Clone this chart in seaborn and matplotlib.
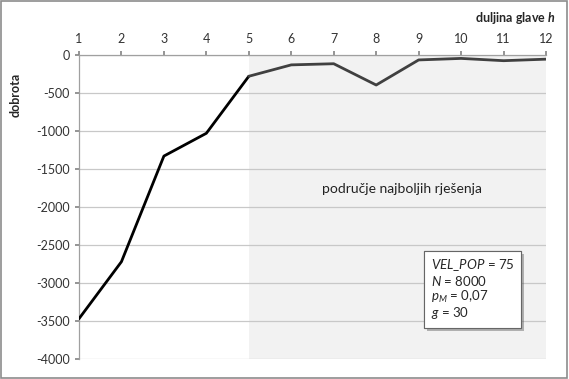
import seaborn as sns
import matplotlib.pyplot as plt
import matplotlib.patheffects as pe
import pandas as pd

# head length h and fitness values
h = [1, 2, 3, 4, 5, 6, 7, 8, 9, 10, 11, 12]
dobrota = [-3470, -2720, -1330, -1030, -280, -130, -115, -395, -65, -45, -75, -55]
best_start = 5
params = "$VEL\\_POP$ = 75\n$N$ = 8000\n$p_M$ = 0,07\n$g$ = 30"

sns.set_theme(style="white")
plt.rcParams['font.family'] = ['Lato', 'DejaVu Sans']
plt.rcParams['axes.unicode_minus'] = False
plt.rcParams['mathtext.fontset'] = 'custom'
plt.rcParams['mathtext.rm'] = 'Lato'
plt.rcParams['mathtext.it'] = 'Lato:italic'
plt.rcParams['mathtext.bf'] = 'Lato:bold'
plt.rcParams['mathtext.bfit'] = 'Lato:bold:italic'

df = pd.DataFrame({'h': h, 'dobrota': dobrota})
first = df[df['h'] <= best_start]
second = df[df['h'] >= best_start]

fig = plt.figure(figsize=(5.69, 3.79), dpi=100)
ax = fig.add_axes([0.1388, 0.0528, 0.8208, 0.8021])

# shaded region of best solutions
ax.axvspan(best_start, 12, ymin=0, ymax=1, color='#f2f2f2', zorder=0, lw=0)
for yv in range(-4000, 1, 500):
    ax.axhline(yv, color='#c8c8c8', lw=0.9, zorder=1)

sns.lineplot(data=first, x='h', y='dobrota', color='black', lw=2, ax=ax, zorder=3)
sns.lineplot(data=second, x='h', y='dobrota', color='#404040', lw=2, ax=ax, zorder=3)

ax.set_xlim(1, 12)
ax.set_ylim(-4000, 0)
ax.set_xticks(h)
ax.set_yticks(range(-4000, 1, 500))
ax.xaxis.tick_top()
ax.tick_params(axis='x', top=True, length=3, color='#888888', labelsize=9, pad=4, labelcolor='#333333')
ax.tick_params(axis='y', left=True, length=3, color='#888888', labelsize=9, labelcolor='#333333')
for s in ['right', 'bottom']:
    ax.spines[s].set_visible(False)
for s in ['left', 'top']:
    ax.spines[s].set_color('#a0a0a0')
    ax.spines[s].set_linewidth(0.9)

ax.set_xlabel('')
ax.set_ylabel('')
fig.text(0.027, 0.75, 'dobrota', rotation=90, fontsize=9, fontweight='bold', ha='center', va='center')
fig.text(0.977, 0.952, 'duljina glave $\\mathbfit{h}$', fontsize=9, fontweight='bold', ha='right', va='center')

ax.text(8.61, -1763, 'područje najboljih rješenja', fontsize=10, ha='center', va='center', color='#222222')

t = ax.text(9.28, -3085, params, fontsize=9.5, ha='left', va='center', linespacing=1.05,
            bbox=dict(boxstyle='square,pad=0.5', fc='white', ec='#666666', lw=0.8), zorder=5)
t.get_bbox_patch().set_path_effects([pe.withSimplePatchShadow(offset=(2, -2), alpha=0.4), pe.Normal()])

fig.patches.append(plt.Rectangle((0.002, 0.003), 0.995, 0.994, transform=fig.transFigure,
                                 fill=False, ec='#8c8c8c', lw=1.2))

fig.savefig('out.png', dpi=100)
